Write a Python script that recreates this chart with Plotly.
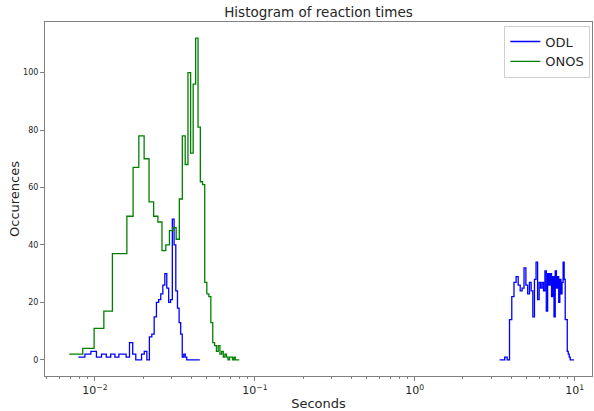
import plotly.graph_objects as go

# ---- data (histogram bins: start, width, counts) ----
onos_start = 0.0069
onos_width = 0.001488
onos_counts = [2, 4, 11, 17, 37, 37, 50, 67, 78, 70,
               55, 50, 48, 38, 40, 45, 46, 42, 56, 78,
               68, 100, 72, 96, 112, 81, 62, 61, 27, 23,
               22, 13, 6, 5, 3, 5, 2, 3, 1, 2,
               1, 0, 1, 1, 0, 1, 0, 0, 0]

odl_fast_start = 0.00787
odl_fast_width = 0.000779
odl_fast_counts = [1, 2, 3, 1, 2, 1, 2, 1, 2, 2,
                   1, 6, 2, 0, 0, 2, 3, 0, 8, 9,
                   15, 20, 21, 23, 26, 30, 25, 20, 21, 49,
                   40, 24, 18, 13, 9, 1, 2, 1, 0, 0,
                   0, 0, 0, 0, 0, 0, 0, 0]

odl_slow_start = 3.39
odl_slow_width = 0.13
odl_slow_counts = [0, 0, 1, 0, 14, 22, 27, 29, 26, 24,
                   25, 32, 26, 23, 27, 24, 15, 28, 34, 21,
                   27, 25, 27, 24, 31, 17, 30, 26, 30, 22,
                   29, 15, 31, 25, 29, 20, 28, 23, 27, 34,
                   28, 14, 14, 3, 2, 1, 0, 0, 0, 0]

x_tick_vals = [0.01, 0.1, 1, 10]
x_tick_text = ["10<sup>\u22122</sup>", "10<sup>\u22121</sup>", "10<sup>0</sup>", "10<sup>1</sup>"]
y_tick_vals = [0, 20, 40, 60, 80, 100]


def step_xy(start, width, counts):
    edges = [start + i * width for i in range(len(counts) + 1)]
    return edges, list(counts) + [counts[-1]]


ox, oy = step_xy(onos_start, onos_width, onos_counts)
fx, fy = step_xy(odl_fast_start, odl_fast_width, odl_fast_counts)
sx, sy = step_xy(odl_slow_start, odl_slow_width, odl_slow_counts)

minor_vals = [m * 10 ** e for e in range(-3, 2) for m in range(2, 10)]

fig = go.Figure()
fig.add_trace(go.Scatter(x=fx + [None] + sx, y=fy + [None] + sy, mode="lines",
                         line=dict(color="#0000ff", width=1.3, shape="hv"),
                         name="ODL", connectgaps=False))
fig.add_trace(go.Scatter(x=ox, y=oy, mode="lines",
                         line=dict(color="#008000", width=1.3, shape="hv"),
                         name="ONOS"))

font_family = "DejaVu Sans"
fig.update_layout(
    width=594, height=411,
    margin=dict(l=45, r=2, t=22, b=35),
    paper_bgcolor="white", plot_bgcolor="white",
    font=dict(family=font_family, color="#262626"),
    title=dict(text="Histogram of reaction times", x=0.5, xref="paper",
               y=1 - 12 / 411, yref="container", yanchor="middle",
               font=dict(size=13.5, color="#262626")),
    legend=dict(x=0.997, y=0.99, xanchor="right", yanchor="top",
                bgcolor="rgba(255,255,255,0.9)", bordercolor="#d0d0d0", borderwidth=1,
                font=dict(size=13, color="#262626"), itemwidth=30,
                tracegroupgap=0),
    showlegend=True,
)
fig.update_xaxes(
    type="log", range=[-2.3125, 1.108],
    showline=True, linecolor="#808080", linewidth=1, mirror=True,
    showgrid=False, zeroline=False,
    tickmode="array", tickvals=x_tick_vals, ticktext=x_tick_text,
    ticks="outside", ticklen=4, tickcolor="#808080",
    tickfont=dict(size=11, color="#262626"),
    minor=dict(tickmode="array", tickvals=minor_vals, ticks="outside",
               ticklen=2, tickcolor="#808080"),
    title=dict(text="Seconds", font=dict(size=13, color="#262626"), standoff=4),
)
fig.update_yaxes(
    range=[-5.6, 117.6],
    showline=True, linecolor="#808080", linewidth=1, mirror=True,
    showgrid=False, zeroline=False,
    tickmode="array", tickvals=y_tick_vals,
    ticks="outside", ticklen=4, tickcolor="#808080",
    tickfont=dict(size=8, color="#262626"),
    title=dict(text="Occurences", font=dict(size=13, color="#262626"), standoff=0),
)

fig.write_html("out.html")
